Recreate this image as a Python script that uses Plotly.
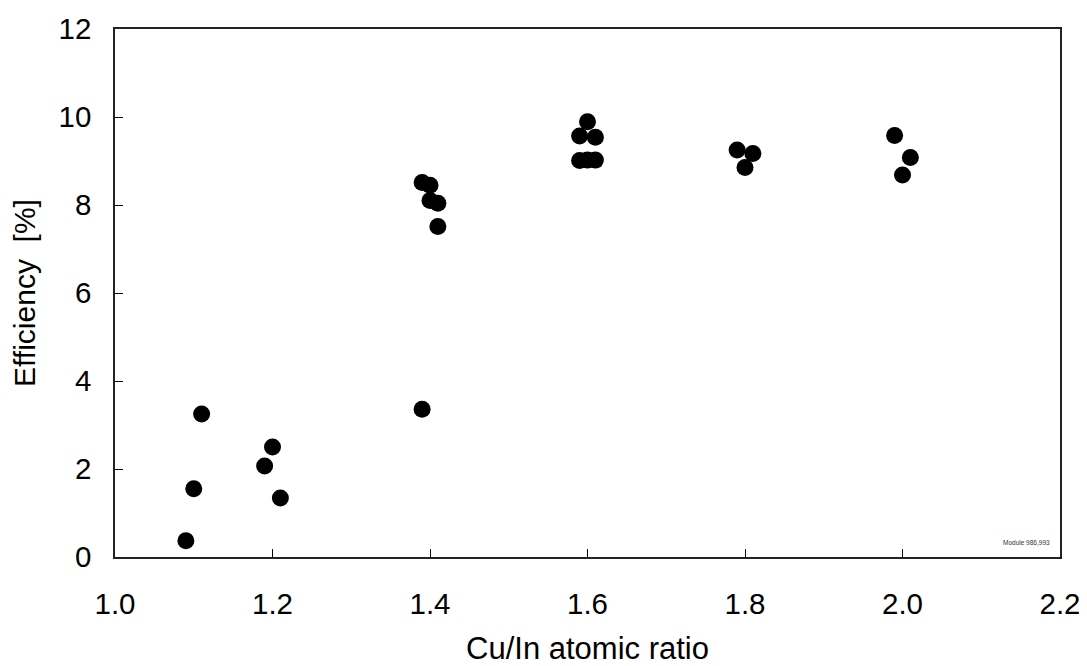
import plotly.graph_objects as go

cu_in_ratio = [1.09, 1.10, 1.11, 1.19, 1.20, 1.21, 1.39,
               1.39, 1.40, 1.40, 1.41, 1.41,
               1.59, 1.59, 1.60, 1.60, 1.61, 1.61,
               1.79, 1.80, 1.81,
               1.99, 2.00, 2.01]
efficiency = [0.37, 1.55, 3.25, 2.07, 2.50, 1.34, 3.36,
              8.51, 8.45, 8.10, 8.04, 7.51,
              9.57, 9.01, 9.89, 9.02, 9.54, 9.02,
              9.25, 8.85, 9.17,
              9.58, 8.68, 9.08]

x_ticks = [1.0, 1.2, 1.4, 1.6, 1.8, 2.0, 2.2]
x_tick_labels = ["1.0", "1.2", "1.4", "1.6", "1.8", "2.0", "2.2"]
y_ticks = [0, 2, 4, 6, 8, 10, 12]
y_tick_labels = ["0", "2", "4", "6", "8", "10", "12"]

font_family = "Liberation Sans, Arial, sans-serif"

fig = go.Figure()
fig.add_trace(go.Scatter(
    x=cu_in_ratio, y=efficiency, mode="markers",
    marker=dict(color="black", size=17, line=dict(width=0)),
    showlegend=False, cliponaxis=False,
))

fig.update_layout(
    width=1079, height=658,
    margin=dict(l=107, r=27, t=21, b=109),
    paper_bgcolor="white", plot_bgcolor="white",
    font=dict(family=font_family, size=30, color="black"),
    xaxis=dict(
        range=[1.0, 2.2], tickvals=x_ticks, ticktext=x_tick_labels,
        ticks="inside", ticklen=8, tickwidth=1, tickcolor="black",
        showline=True, linecolor="#222", linewidth=1.5, mirror=True,
        showgrid=False, zeroline=False, automargin=False,
        title=dict(text="Cu/In atomic ratio", standoff=18, font=dict(size=31)),
        tickfont=dict(size=29.5), ticklabelstandoff=20,
    ),
    yaxis=dict(
        range=[0, 12], tickvals=y_ticks, ticktext=y_tick_labels,
        ticks="inside", ticklen=8, tickwidth=1, tickcolor="black",
        showline=True, linecolor="#222", linewidth=1.5, mirror=True,
        showgrid=False, zeroline=False, automargin=False,
        title=dict(text="Efficiency  [%]", standoff=14, font=dict(size=30)),
        tickfont=dict(size=29.5), ticklabelstandoff=16,
    ),
    annotations=[dict(
        text="Module 986,993", x=0.9915, y=0.017, xref="paper", yref="paper",
        xanchor="right", yanchor="bottom", showarrow=False,
        font=dict(size=6.5, color="#333", family=font_family),
    )],
)

fig.write_html("out.html")
